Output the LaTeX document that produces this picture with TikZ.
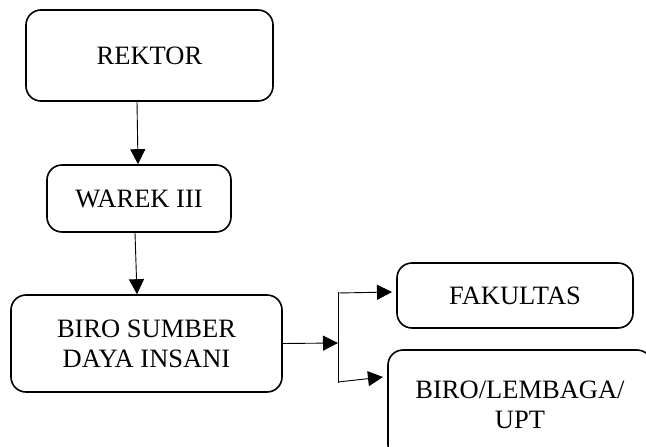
\documentclass[tikz,border=0pt]{standalone}
\usepackage{fontspec}
\setmainfont{Liberation Serif}
\usetikzlibrary{arrows.meta}
\begin{document}
\begin{tikzpicture}[x=1pt,y=-1pt,
  box/.style={draw, line width=1.6pt, rounded corners=15pt, align=center, inner sep=0pt,
    font=\fontsize{26.5}{30}\selectfont},
  conn/.style={line width=0.9pt},
  arr/.style={conn, -{Triangle[length=15pt,width=15pt]}}]
\useasboundingbox (0,0) rectangle (646,447);
\clip (0,0) rectangle (646,447);
\node[box, minimum width=247pt, minimum height=91pt] (rektor) at (149.5,55.5) {REKTOR};
\node[box, minimum width=184pt, minimum height=67pt] (warek) at (139,198.5) {WAREK III};
\node[box, minimum width=271pt, minimum height=97pt] (bsdi) at (146.5,343.5) {BIRO SUMBER\\DAYA INSANI};
\node[box, minimum width=236pt, minimum height=65pt] (fak) at (515,295.5) {FAKULTAS};
\node[box, minimum width=264pt, minimum height=110pt] (biro) at (520,405) {BIRO/LEMBAGA/\\UPT};
\coordinate (split) at (338,343);
\coordinate (top) at (338,292);
\coordinate (bot) at (338,383);
\coordinate (tstart) at (338,293);
\coordinate (tend) at (392,292);
\coordinate (bstart) at (338,382);
\coordinate (bend) at (383,377);
\draw[arr] ([xshift=-12.5pt]rektor.south) -- ([xshift=-1pt]warek.north);
\draw[arr] ([xshift=-4pt]warek.south) -- ([xshift=-9.5pt]bsdi.north);
\draw[arr] (bsdi.east) -- (split);
\draw[conn] (top) -- (bot);
\draw[arr] (tstart) -- (tend);
\draw[arr] (bstart) -- (bend);
\end{tikzpicture}
\end{document}
